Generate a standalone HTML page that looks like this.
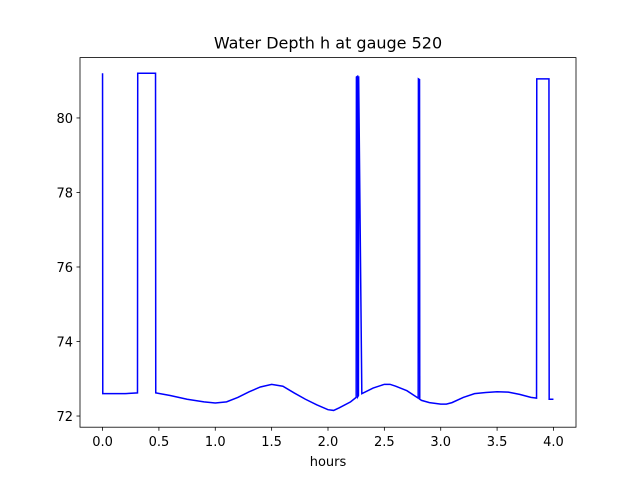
<!DOCTYPE html>
<html><head><meta charset="utf-8"><style>body{margin:0;background:#fff}svg{display:block;font-family:"DejaVu Sans","Liberation Sans",sans-serif}</style></head>
<body>
<svg id="c" width="640" height="480"></svg>
<script>
const xTicks=[0,0.5,1,1.5,2,2.5,3,3.5,4];
const xTickLabels=["0.0","0.5","1.0","1.5","2.0","2.5","3.0","3.5","4.0"];
const yTicks=[72,74,76,78,80];
const yTickLabels=["72","74","76","78","80"];
const hours=[0,0.002,0.05,0.2,0.31,0.312,0.47,0.472,0.6,0.75,0.9,1.0,1.1,1.2,1.3,1.4,1.5,1.6,1.7,1.8,1.9,2.0,2.05,2.1,2.2,2.25,2.252,2.262,2.264,2.27,2.272,2.3,2.4,2.5,2.55,2.6,2.7,2.8,2.802,2.812,2.814,2.83,2.9,3.0,3.05,3.1,3.2,3.3,3.4,3.5,3.6,3.7,3.8,3.85,3.852,3.96,3.962,4.0];
const depth=[81.2,72.6,72.6,72.6,72.62,81.2,81.2,72.62,72.55,72.45,72.38,72.35,72.38,72.5,72.65,72.78,72.85,72.8,72.62,72.45,72.3,72.17,72.15,72.22,72.38,72.5,81.1,81.12,72.52,72.55,81.12,72.6,72.75,72.85,72.85,72.8,72.68,72.48,81.05,81.03,72.45,72.42,72.36,72.32,72.32,72.36,72.5,72.6,72.63,72.65,72.64,72.58,72.5,72.48,81.05,81.05,72.45,72.45];
const L=80,R=576,T=57.6,B=427.2,x0=-0.2,x1=4.2,y0=71.70,y1=81.62;
const sx=v=>L+(v-x0)/(x1-x0)*(R-L), sy=v=>B-(v-y0)/(y1-y0)*(B-T);
const svg=document.getElementById('c'),NS='http://www.w3.org/2000/svg';
function mk(t,a,p){const e=document.createElementNS(NS,t);for(const k in a)e.setAttribute(k,a[k]);(p||svg).appendChild(e);return e;}
let d=hours.map((h,i)=>(i?'L':'M')+sx(h).toFixed(2)+','+sy(depth[i]).toFixed(2)).join('');
const line=mk('path',{d:d,fill:'none',stroke:'#0000ff','stroke-width':1.5});


const frame=mk('rect',{x:L,y:T,width:R-L,height:B-T,fill:'none',stroke:'#000','stroke-width':0.8});


xTicks.forEach((v,i)=>{const x=sx(v);mk('line',{x1:x,x2:x,y1:B,y2:B+3.5,stroke:'#000','stroke-width':0.8});
const t=mk('text',{x:x,y:B+19,'text-anchor':'middle','font-size':13});t.textContent=xTickLabels[i];

});
yTicks.forEach((v,i)=>{const y=sy(v);mk('line',{x1:L-3.5,x2:L,y1:y,y2:y,stroke:'#000','stroke-width':0.8});
const t=mk('text',{x:L-7,y:y+5,'text-anchor':'end','font-size':13});t.textContent=yTickLabels[i];

});
const xl=mk('text',{x:(L+R)/2,y:B+39,'text-anchor':'middle','font-size':13});xl.textContent='hours';


const tt=mk('text',{x:(L+R)/2,y:T-9,'text-anchor':'middle','font-size':16});tt.textContent='Water Depth h at gauge 520';


</script>
</body></html>
